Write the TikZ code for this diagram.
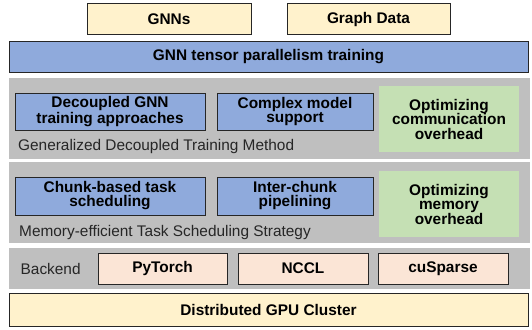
\documentclass[tikz,border=0pt]{standalone}
\usepackage{fontspec}
\setmainfont{Liberation Sans}
\definecolor{cream}{HTML}{FFF2CC}
\definecolor{bluebox}{HTML}{8FAADC}
\definecolor{panelgray}{HTML}{BFBFBF}
\definecolor{greenbox}{HTML}{C5E0B4}
\definecolor{peach}{HTML}{FBE5D6}
\definecolor{edge}{HTML}{262626}
\begin{document}
\begin{tikzpicture}[x=1pt,y=-1pt,
  box/.style={draw=edge, line width=1pt, inner sep=0pt, align=center,
    font=\fontsize{15.4}{14}\selectfont\bfseries},
  greenbx/.style={fill=greenbox, draw=none, inner sep=0pt, align=center,
    font=\fontsize{15.4}{14.5}\selectfont\bfseries},
  panel/.style={fill=panelgray, draw=none, inner sep=0pt},
  lbl/.style={inner sep=0pt, font=\fontsize{15.4}{14}\selectfont, text=black!85}]
\useasboundingbox (0,0) rectangle (532,329);
\fill[white] (0,0) rectangle (532,329);
% panels
\node[panel, minimum width=521pt, minimum height=81pt] (p1) at (269.5,118.8) {};
\node[panel, minimum width=521pt, minimum height=81pt] (p2) at (269.5,202.8) {};
\node[panel, minimum width=521pt, minimum height=41.6pt] (p3) at (269.5,268.5) {};
% top
\node[box, fill=cream, minimum width=164pt, minimum height=31pt] (gnns) at (169,19.5) {GNNs};
\node[box, fill=cream, minimum width=163pt, minimum height=31pt] (gdata) at (368.5,19.5) {Graph Data};
\node[box, fill=bluebox, minimum width=519pt, minimum height=31.5pt] (tp) at (268.5,56.8) {GNN tensor parallelism training};
% panel 1
\node[box, fill=bluebox, minimum width=190pt, minimum height=37pt] (dec) at (110,111.5) {Decoupled GNN\\training approaches};
\node[box, fill=bluebox, minimum width=156pt, minimum height=37pt] (cplx) at (295,111.5) {Complex model\\support};
\node[greenbx, minimum width=140pt, minimum height=66pt] (ocomm) at (449,119) {Optimizing\\communication\\overhead};
\node[lbl, anchor=base west] (l1) at (18,150) {Generalized Decoupled Training Method};
% panel 2
\node[box, fill=bluebox, minimum width=190pt, minimum height=38pt] (chunk) at (110,196) {Chunk-based task\\scheduling};
\node[box, fill=bluebox, minimum width=156pt, minimum height=38pt] (inter) at (295,196) {Inter-chunk\\pipelining};
\node[greenbx, minimum width=140pt, minimum height=66pt] (omem) at (449,204) {Optimizing\\memory\\overhead};
\node[lbl, anchor=base west] (l2) at (19,236.5) {Memory-efficient Task Scheduling Strategy};
% backend
\node[lbl, anchor=base west] (l3) at (20.5,274) {Backend};
\node[box, fill=peach, minimum width=129pt, minimum height=31pt] (pyt) at (162.5,268.5) {PyTorch};
\node[box, fill=peach, minimum width=130pt, minimum height=31pt] (nccl) at (303,268.5) {NCCL};
\node[box, fill=peach, minimum width=130pt, minimum height=31pt] (cusp) at (443,268.5) {cuSparse};
% bottom
\node[box, fill=cream, minimum width=519pt, minimum height=32.5pt] (gpu) at (268.5,310.2) {Distributed GPU Cluster};
\end{tikzpicture}
\end{document}
